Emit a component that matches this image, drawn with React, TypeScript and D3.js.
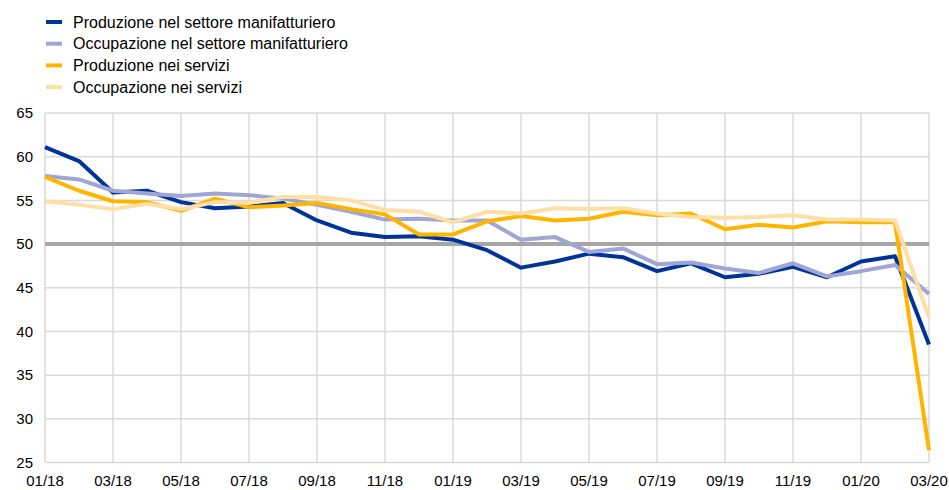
import React from "react";
import * as d3 from "d3";

const months = [
  "01/18","02/18","03/18","04/18","05/18","06/18","07/18","08/18","09/18","10/18","11/18","12/18",
  "01/19","02/19","03/19","04/19","05/19","06/19","07/19","08/19","09/19","10/19","11/19","12/19",
  "01/20","02/20","03/20",
];
const tickLabels = ["01/18","03/18","05/18","07/18","09/18","11/18","01/19","03/19","05/19","07/19","09/19","11/19","01/20","03/20"];
const yTicks = [25, 30, 35, 40, 45, 50, 55, 60, 65];

const prodManuf = [61.1,59.5,55.9,56.1,54.8,54.1,54.3,54.7,52.7,51.3,50.8,50.9,50.5,49.3,47.3,48.0,48.9,48.5,46.9,47.8,46.2,46.6,47.4,46.2,48.0,48.6,38.5];
const empManuf = [57.8,57.4,56.1,55.8,55.5,55.8,55.6,55.2,54.5,53.7,52.8,52.9,52.7,52.7,50.5,50.8,49.1,49.5,47.7,47.9,47.2,46.7,47.8,46.3,46.9,47.6,44.3];
const prodServ = [57.7,56.1,54.9,54.8,53.8,55.2,54.2,54.4,54.7,54.0,53.4,51.1,51.1,52.6,53.2,52.7,52.9,53.7,53.3,53.5,51.7,52.2,51.9,52.6,52.5,52.5,26.4];
const empServ = [54.9,54.5,54.0,54.6,54.0,54.8,54.7,55.4,55.4,55.0,53.9,53.7,52.5,53.7,53.5,54.1,54.0,54.1,53.5,53.1,53.0,53.1,53.3,52.8,52.8,52.7,41.6];

const seriesNames = [
  "Produzione nel settore manifatturiero",
  "Occupazione nel settore manifatturiero",
  "Produzione nei servizi",
  "Occupazione nei servizi",
];
const seriesColors = ["#003399", "#9fa6d5", "#ffb400", "#fedfa6"];
const seriesData = [prodManuf, empManuf, prodServ, empServ];

export default function App() {
  const W = 949, H = 490;
  const x = d3.scalePoint<string>().domain(months).range([45, 929]);
  const y = d3.scaleLinear().domain([25, 65]).range([462.5, 113]);
  const line = d3.line<number>()
    .x((_, i) => x(months[i]) as number)
    .y((d) => y(d));
  const font = "'Liberation Sans', Arial, sans-serif";
  const order = [0, 1, 2, 3];
  return (
    <svg width={W} height={H} style={{ position: "absolute", left: 0, top: 0, background: "#fff" }} fontFamily={font}>
      {yTicks.map((t) => (
        <line key={"h" + t} x1={45} x2={929} y1={y(t)} y2={y(t)} stroke="#d9d9d9" strokeWidth={1.5} />
      ))}
      {tickLabels.map((m) => (
        <line key={"v" + m} x1={x(m)} x2={x(m)} y1={y(65)} y2={y(25)} stroke="#d9d9d9" strokeWidth={1.5} />
      ))}
      <line x1={45} x2={929} y1={y(50)} y2={y(50)} stroke="#a6a6a6" strokeWidth={4} />
      {yTicks.map((t) => (
        <text key={"yl" + t} x={33} y={y(t)} dy="0.35em" textAnchor="end" fontSize={15} fill="#000">{t}</text>
      ))}
      {tickLabels.map((m) => (
        <text key={"xl" + m} x={x(m)} y={481} dy="0.35em" textAnchor="middle" fontSize={15} fill="#000">{m}</text>
      ))}
      {order.map((k) => (
        <path key={"s" + k} d={line(seriesData[k]) || ""} fill="none" stroke={seriesColors[k]} strokeWidth={4} strokeLinejoin="round" />
      ))}
      {seriesNames.map((n, i) => (
        <g key={"lg" + i} transform={`translate(0, ${22 + i * 21.7})`}>
          <line x1={46} x2={62} y1={0} y2={0} stroke={seriesColors[i]} strokeWidth={4} />
          <text x={73} y={0} dy="0.35em" fontSize={16} fill="#000">{n}</text>
        </g>
      ))}
    </svg>
  );
}
